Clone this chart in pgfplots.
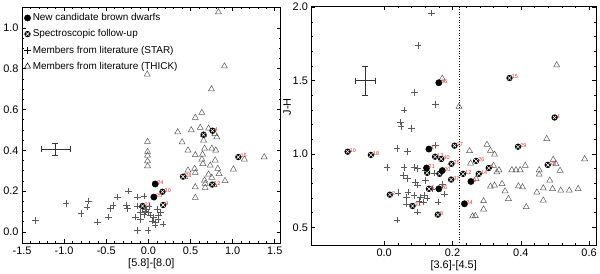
\documentclass[border=0pt]{standalone}
\usepackage{fontspec}
\setmainfont{Liberation Sans}
\usepackage{pgfplots}
\pgfplotsset{compat=1.18}
\definecolor{pg}{RGB}{90,90,90}
\definecolor{lblred}{RGB}{220,40,40}
\pgfdeclareplotmark{xcirc}{%
 \pgfpathcircle{\pgfpointorigin}{\pgfplotmarksize}%
 \pgfsetfillcolor{black}\pgfusepath{fill}%
 \pgfsetstrokecolor{white}\pgfsetlinewidth{0.55pt}%
 \pgfpathmoveto{\pgfpoint{-0.55\pgfplotmarksize}{-0.55\pgfplotmarksize}}%
 \pgfpathlineto{\pgfpoint{0.55\pgfplotmarksize}{0.55\pgfplotmarksize}}%
 \pgfpathmoveto{\pgfpoint{-0.55\pgfplotmarksize}{0.55\pgfplotmarksize}}%
 \pgfpathlineto{\pgfpoint{0.55\pgfplotmarksize}{-0.55\pgfplotmarksize}}%
 \pgfusepath{stroke}%
}
\pgfplotsset{
 idl/.style={
  scale only axis,
  axis line style={line width=0.6pt},
  tick align=inside,
  major tick length=4pt, minor tick length=2pt,
  tick style={black, line width=0.5pt},
  ticklabel style={font=\fontsize{11}{12}\selectfont},
  label style={font=\fontsize{11}{12}\selectfont},
  /pgf/number format/assume math mode=true,
  /pgf/number format/fixed, /pgf/number format/fixed zerofill, /pgf/number format/precision=1,
  nodes near coords align={anchor=west},
  every node near coord/.append style={font=\fontsize{5.5}{6}\selectfont, text=lblred, inner sep=0.5pt, xshift=1.5pt, yshift=1pt},
 },
 tri/.style={only marks, mark=triangle, mark size=3.5pt, pg, mark options={line width=0.5pt}},
 pls/.style={only marks, mark=+, mark size=3.3pt, pg, mark options={line width=0.5pt}},
 fil/.style={only marks, mark=*, mark size=3.2pt, black},
 xc/.style={only marks, mark=xcirc, mark size=3.2pt, black},
 ebar/.style={black!80, line width=0.5pt, mark=none,
  error bars/.cd, x dir=both, x explicit, y dir=both, y explicit,
  error bar style={line width=0.5pt}, error mark options={rotate=90, mark size=3pt, line width=0.5pt}, /pgfplots/.cd},
}
\begin{document}
\begin{tikzpicture}[x=1pt,y=1pt]
\path (0,0) rectangle (600,270);
\begin{axis}[idl, at={(19pt,29pt)}, anchor=south west, width=260pt, height=237pt,
 xmin=-1.5, xmax=1.57, ymin=-0.055, ymax=1.10,
 xtick={-1.5,-1,-0.5,0,0.5,1,1.5}, ytick={0,0.2,0.4,0.6,0.8,1.0},
 minor x tick num=4, minor y tick num=3,
 xlabel={[5.8]-[8.0]}, xlabel style={yshift=3pt},
 legend style={at={(0,1)}, anchor=north west, draw=none, fill=none, font=\fontsize{10}{11}\selectfont, row sep=3.5pt, inner xsep=2pt, inner ysep=4pt},
 legend cell align=left,
 legend image code/.code={\draw[mark repeat=2,mark phase=2] plot coordinates {(0pt,0pt)(4pt,0pt)(8pt,0pt)};},
]
\addlegendimage{fil}
\addlegendimage{xc}
\addlegendimage{pls, black}
\addlegendimage{tri, black}
\legend{New candidate brown dwarfs, Spectroscopic follow-up, Members from literature (STAR), Members from literature (THICK)}
\addplot[tri, forget plot] table {
x y
0.832 1.077
0.903 0.812
-0.014 0.772
0.749 0.700
0.635 0.584
0.557 0.560
0.348 0.489
0.509 0.499
0.616 0.511
0.714 0.507
0.655 0.475
0.655 0.449
0.812 0.465
0.790 0.480
0.400 0.440
0.470 0.400
0.667 0.409
0.753 0.409
0.800 0.400
0.557 0.377
0.643 0.380
0.635 0.356
0.793 0.351
0.647 0.334
0.734 0.326
1.009 0.307
1.139 0.356
1.375 0.367
0.470 0.302
0.549 0.310
0.557 0.290
0.824 0.310
0.840 0.285
0.714 0.282
0.910 0.250
0.667 0.253
0.675 0.237
0.675 0.217
0.557 0.220
0.557 0.168
0.753 0.266
0.430 0.270
-0.010 0.442
-0.010 0.393
-0.010 0.375
-0.010 0.347
-0.010 0.323
0.780 0.230
};
\addplot[pls, forget plot] table {
x y
-1.339 0.057
-0.977 0.139
-0.800 0.090
-0.710 0.152
-0.729 0.122
-0.603 0.049
-0.458 0.114
-0.474 0.073
-0.419 0.130
-0.367 0.171
-0.238 0.200
-0.261 0.130
-0.250 0.114
-0.131 0.171
-0.053 0.176
-0.131 0.008
-0.002 0.008
-0.131 0.127
-0.151 0.073
-0.092 0.095
-0.053 0.086
-0.025 0.111
-0.092 0.062
0.026 0.082
0.045 0.054
0.085 0.046
0.116 0.062
0.144 0.095
0.104 0.111
0.175 0.038
0.077 0.033
0.006 0.127
-0.072 0.119
-0.040 0.100
0.000 0.095
0.060 0.070
0.120 0.080
};
\addplot[forget plot, ebar] table[x error index=2, y error index=3] {
x y ex ey
-1.103 0.405 0.173 0.03
};
\addplot[xc, forget plot] table {
x y
0.655 0.476
};
\addplot[xc, forget plot, nodes near coords, point meta=explicit symbolic] table[meta=l] {
x y l
0.761 0.496 4
1.068 0.367 15
0.411 0.271 28
0.757 0.232 12
0.167 0.197 30
-0.069 0.127 21
0.175 0.132 9
};
\addplot[fil, forget plot, nodes near coords, point meta=explicit symbolic] table[meta=l] {
x y l
0.081 0.235 24
0.065 0.171 25
};
\end{axis}
\begin{axis}[idl, at={(310pt,27pt)}, anchor=south west, width=286pt, height=240pt,
 xmin=-0.213, xmax=0.62, ymin=0.378, ymax=2.005,
 xtick={0,0.2,0.4,0.6}, ytick={0.5,1.0,1.5,2.0},
 minor x tick num=4, minor y tick num=4,
 xlabel={[3.6]-[4.5]}, xlabel style={yshift=3pt},
 ylabel={J-H}, ylabel style={at={(ticklabel cs:0.58)}, yshift=-5pt},
]
\addplot[black, dotted, line width=0.6pt, mark=none] coordinates {(0.22,0.378) (0.22,2.005)};
\addplot[tri] table {
x y
0.505 1.605
0.170 1.514
0.219 1.322
0.476 1.103
0.301 1.063
0.250 1.020
0.311 1.022
0.323 0.996
0.253 0.936
0.320 0.920
0.269 0.830
0.323 0.785
0.311 0.778
0.291 0.679
0.291 0.622
0.267 0.577
0.330 0.875
0.336 0.890
0.345 0.796
0.354 0.746
0.364 0.694
0.374 0.890
0.386 0.890
0.398 0.890
0.413 0.920
0.393 0.780
0.405 0.773
0.416 0.638
0.447 0.738
0.454 0.890
0.454 0.860
0.466 0.766
0.466 0.683
0.485 0.819
0.495 0.961
0.503 0.932
0.515 0.886
0.493 0.762
0.517 0.751
0.542 0.751
0.568 0.762
0.587 0.965
0.259 0.575
};
\addplot[pls] table {
x y
0.139 1.959
0.099 1.738
0.089 1.417
0.150 1.338
0.058 1.300
0.047 1.218
0.049 1.187
0.080 1.173
0.037 1.038
0.068 1.015
0.150 1.060
0.008 0.909
0.058 0.909
0.087 0.909
0.097 0.900
0.121 0.890
0.056 0.852
0.068 0.834
0.092 0.807
0.097 0.789
0.121 0.819
0.148 0.870
0.070 0.740
0.041 0.735
0.066 0.706
0.087 0.717
0.107 0.706
0.117 0.717
0.102 0.676
0.115 0.672
0.066 0.660
0.097 0.604
0.037 0.548
0.157 0.672
0.177 0.728
0.170 0.790
0.140 0.760
0.125 0.700
};
\addplot[ebar] table[x error index=2, y error index=3] {
x y ex ey
-0.055 1.5 0.029 0.10
};
\addplot[xc] table {
x y
0.126 0.871
0.162 0.864
};
\addplot[xc, nodes near coords, point meta=explicit symbolic] table[meta=l] {
x y l
-0.107 1.015 10
-0.039 0.993 18
0.0165 0.722 2
0.083 0.645 31
0.157 0.586 8
0.131 0.762 6
0.149 0.981 13
0.167 0.965 40
0.197 0.932 25
0.196 0.825 37
0.206 1.056 27
0.231 0.864 12
0.269 0.952 26
0.277 0.864 14
0.306 0.904 1
0.367 1.517 15
0.392 1.049 29
0.479 0.925 28
0.499 1.248 4
};
\addplot[fil, nodes near coords, point meta=explicit symbolic] table[meta=l] {
x y l
0.160 1.485 46
0.131 1.033 17
0.124 0.904 21
0.170 0.886 20
0.160 0.762 26
0.254 0.812 9
0.235 0.660 24
};
\end{axis}
\end{tikzpicture}
\end{document}
